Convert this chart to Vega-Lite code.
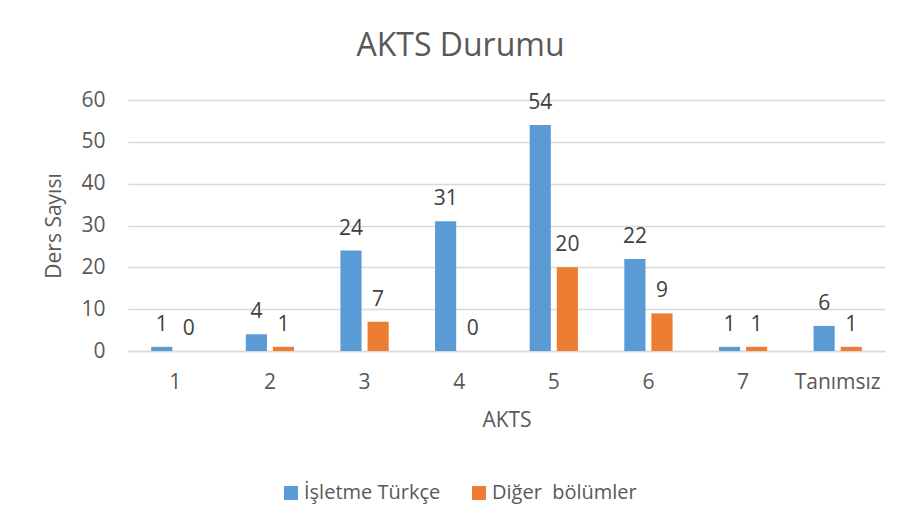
{
  "$schema": "https://vega.github.io/schema/vega-lite/v6.json",
  "width": 757,
  "height": 251,
  "autosize": {"type": "none"},
  "padding": {"left": 128, "top": 100, "right": 17, "bottom": 178},
  "background": "white",
  "title": {
    "text": "AKTS Durumu",
    "font": "Open Sans",
    "fontSize": 32,
    "fontWeight": "normal",
    "color": "#595959",
    "anchor": "middle",
    "frame": "group",
    "dx": -46,
    "offset": 26
  },
  "data": {
    "values": [
      {"AKTS": "1", "seri": "İşletme Türkçe", "deger": 1},
      {"AKTS": "1", "seri": "Diğer\u00a0 bölümler", "deger": 0},
      {"AKTS": "2", "seri": "İşletme Türkçe", "deger": 4},
      {"AKTS": "2", "seri": "Diğer\u00a0 bölümler", "deger": 1},
      {"AKTS": "3", "seri": "İşletme Türkçe", "deger": 24},
      {"AKTS": "3", "seri": "Diğer\u00a0 bölümler", "deger": 7},
      {"AKTS": "4", "seri": "İşletme Türkçe", "deger": 31},
      {"AKTS": "4", "seri": "Diğer\u00a0 bölümler", "deger": 0},
      {"AKTS": "5", "seri": "İşletme Türkçe", "deger": 54},
      {"AKTS": "5", "seri": "Diğer\u00a0 bölümler", "deger": 20},
      {"AKTS": "6", "seri": "İşletme Türkçe", "deger": 22},
      {"AKTS": "6", "seri": "Diğer\u00a0 bölümler", "deger": 9},
      {"AKTS": "7", "seri": "İşletme Türkçe", "deger": 1},
      {"AKTS": "7", "seri": "Diğer\u00a0 bölümler", "deger": 1},
      {"AKTS": "Tanımsız", "seri": "İşletme Türkçe", "deger": 6},
      {"AKTS": "Tanımsız", "seri": "Diğer\u00a0 bölümler", "deger": 1}
    ]
  },
  "encoding": {
    "x": {
      "field": "AKTS",
      "type": "nominal",
      "sort": null,
      "scale": {"paddingInner": 0.49, "paddingOuter": 0.245},
      "axis": {
        "title": "AKTS",
        "labelAngle": 0,
        "ticks": false,
        "domainColor": "#d9d9d9",
        "domainWidth": 1.5,
        "labelPadding": 20,
        "titlePadding": 17
      }
    },
    "xOffset": {
      "field": "seri",
      "type": "nominal",
      "sort": ["İşletme Türkçe", "Diğer\u00a0 bölümler"],
      "scale": {"paddingInner": 0.22, "paddingOuter": 0}
    },
    "y": {
      "field": "deger",
      "type": "quantitative",
      "scale": {"domain": [0, 60]},
      "axis": {
        "title": "Ders Sayısı",
        "values": [0, 10, 20, 30, 40, 50, 60],
        "ticks": false,
        "domain": false,
        "gridColor": "#d9d9d9",
        "gridWidth": 1.5,
        "labelPadding": 23,
        "titlePadding": 16
      }
    }
  },
  "layer": [
    {
      "mark": {"type": "bar"},
      "encoding": {
        "color": {
          "field": "seri",
          "type": "nominal",
          "sort": ["İşletme Türkçe", "Diğer\u00a0 bölümler"],
          "scale": {"range": ["#5b9bd5", "#ed7d31"]},
          "legend": {
            "title": null,
            "orient": "none",
            "legendX": 153,
            "legendY": 383,
            "direction": "horizontal",
            "symbolType": "square",
            "symbolSize": 196,
            "symbolStrokeWidth": 0,
            "labelFontSize": 20,
            "labelFont": "Open Sans",
            "labelColor": "#595959",
            "labelOffset": 3,
            "columnPadding": 28,
            "labelLimit": 300
          }
        }
      }
    },
    {
      "mark": {
        "type": "text",
        "baseline": "alphabetic",
        "dy": -16,
        "fontSize": 21,
        "font": "Open Sans",
        "color": "#404040"
      },
      "encoding": {
        "text": {"field": "deger", "type": "quantitative"}
      }
    }
  ],
  "config": {
    "view": {"stroke": null},
    "axis": {
      "labelFont": "Open Sans",
      "labelFontSize": 21,
      "labelColor": "#595959",
      "titleFont": "Open Sans",
      "titleFontSize": 21,
      "titleFontWeight": "normal",
      "titleColor": "#595959"
    }
  }
}
